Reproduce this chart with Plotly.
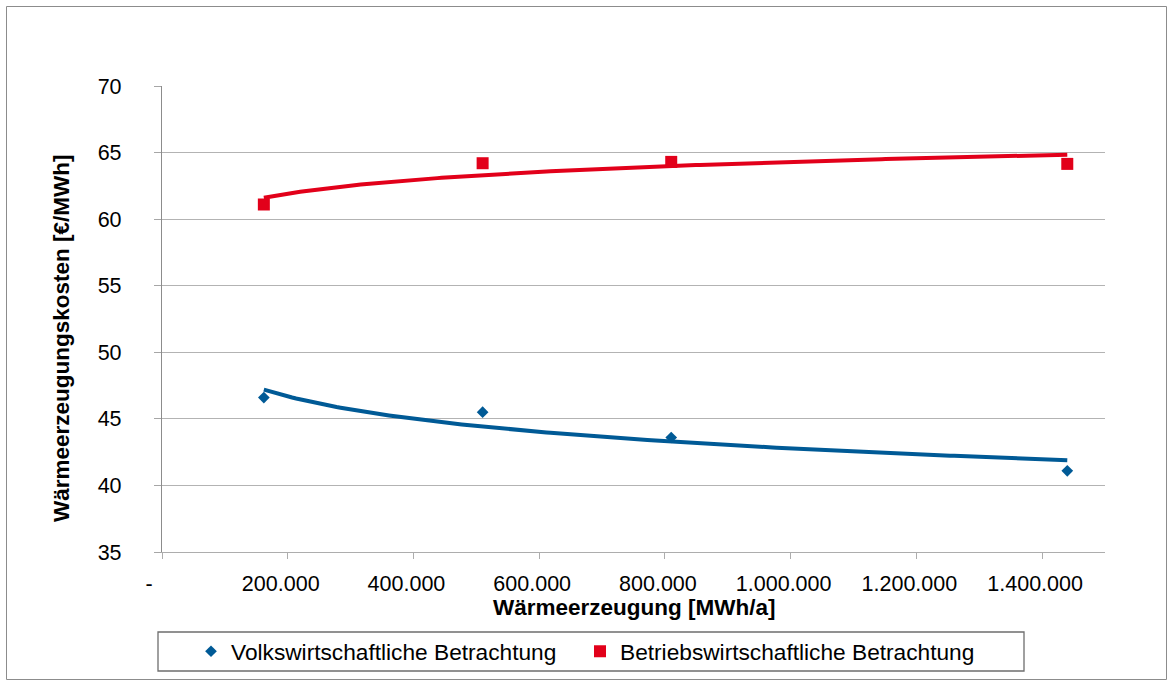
import numpy as np
import plotly.graph_objects as go

# ---- data ----
x_vals = [162000, 510000, 810000, 1440000]
volks = [46.6, 45.5, 43.6, 41.1]
betriebs = [61.1, 64.2, 64.3, 64.15]
x_ticks = [0, 200000, 400000, 600000, 800000, 1000000, 1200000, 1400000]
x_ticktext = ["-\u00a0\u00a0", "200.000", "400.000", "600.000", "800.000",
              "1.000.000", "1.200.000", "1.400.000"]
y_ticks = [35, 40, 45, 50, 55, 60, 65, 70]
name_volks = "Volkswirtschaftliche Betrachtung"
name_betr = "Betriebswirtschaftliche Betrachtung"

BLUE = "#005A96"
RED = "#E2001A"

# plot-area geometry (pixels)
W, H = 1173, 686
L, R, T, B = 162, 1105, 86, 552


def px_x(p):
    return (p - L) / (R - L)


def px_y(p):
    return (B - p) / (B - T)


def log_trend(xs, ys):
    b, a = np.polyfit(np.log(xs), ys, 1)
    xx = np.linspace(min(xs), max(xs), 200)
    return xx, a + b * np.log(xx)


fig = go.Figure()

xb, yb = log_trend(x_vals, volks)
xr, yr = log_trend(x_vals, betriebs)
fig.add_trace(go.Scatter(x=xb, y=yb, mode="lines", line=dict(color=BLUE, width=4),
                         showlegend=False, hoverinfo="skip"))
fig.add_trace(go.Scatter(x=xr, y=yr, mode="lines", line=dict(color=RED, width=4),
                         showlegend=False, hoverinfo="skip"))
fig.add_trace(go.Scatter(x=x_vals, y=volks, mode="markers", name=name_volks,
                         legend="legend",
                         marker=dict(symbol="diamond", size=9, color=BLUE)))
fig.add_trace(go.Scatter(x=x_vals, y=betriebs, mode="markers", name=name_betr,
                         legend="legend2",
                         marker=dict(symbol="square", size=12, color=RED)))

font = "Liberation Sans, Arial, sans-serif"
leg_common = dict(orientation="h", xanchor="left", y=px_y(651.5), yanchor="middle",
                  font=dict(size=22.7, color="black"),
                  bgcolor="rgba(0,0,0,0)", borderwidth=0)

fig.update_layout(
    width=W, height=H,
    margin=dict(l=L, r=W - R, t=T, b=H - B, pad=0),
    paper_bgcolor="white", plot_bgcolor="white",
    font=dict(family=font, size=21, color="black"),
    showlegend=True,
    legend=dict(x=px_x(191), **leg_common),
    legend2=dict(x=px_x(580), **leg_common),
    xaxis=dict(range=[0, 1500000], tickvals=x_ticks, ticktext=x_ticktext,
               showgrid=False, zeroline=False, showline=True,
               linecolor="#ADADAD", linewidth=1.3,
               ticks="outside", ticklen=6, tickcolor="#ADADAD",
               ticklabelshift=-7, ticklabelstandoff=6,
               tickfont=dict(size=21.5)),
    yaxis=dict(range=[35, 70], tickvals=y_ticks,
               showgrid=True, gridcolor="#B3B3B3", gridwidth=1.3,
               zeroline=False, showline=True, linecolor="#8C8C8C", linewidth=1.3,
               ticks="outside", ticklen=7, tickcolor="#A6A6A6",
               ticklabelstandoff=28, tickfont=dict(size=21.5)),
    annotations=[
        dict(text="<b>Wärmeerzeugung [MWh/a]</b>", xref="paper", yref="paper",
             x=px_x(634), y=px_y(607), xanchor="center", yanchor="middle",
             showarrow=False, font=dict(size=22.5, color="black")),
        dict(text="<b>Wärmeerzeugungskosten [€/MWh]</b>", xref="paper", yref="paper",
             x=px_x(61), y=px_y(338), xanchor="center", yanchor="middle",
             textangle=-90, showarrow=False, font=dict(size=22.5, color="black")),
    ],
    shapes=[
        dict(type="rect", xref="paper", yref="paper",
             x0=px_x(6.5), x1=px_x(1166.5), y0=px_y(679.5), y1=px_y(6.5),
             line=dict(color="#8C8C8C", width=1), fillcolor="rgba(0,0,0,0)", layer="below"),
        dict(type="rect", xref="paper", yref="paper",
             x0=px_x(158), x1=px_x(1024), y0=px_y(671), y1=px_y(632),
             line=dict(color="#6E6E6E", width=1.3), fillcolor="rgba(0,0,0,0)"),
    ],
)

fig.write_html("out.html")
